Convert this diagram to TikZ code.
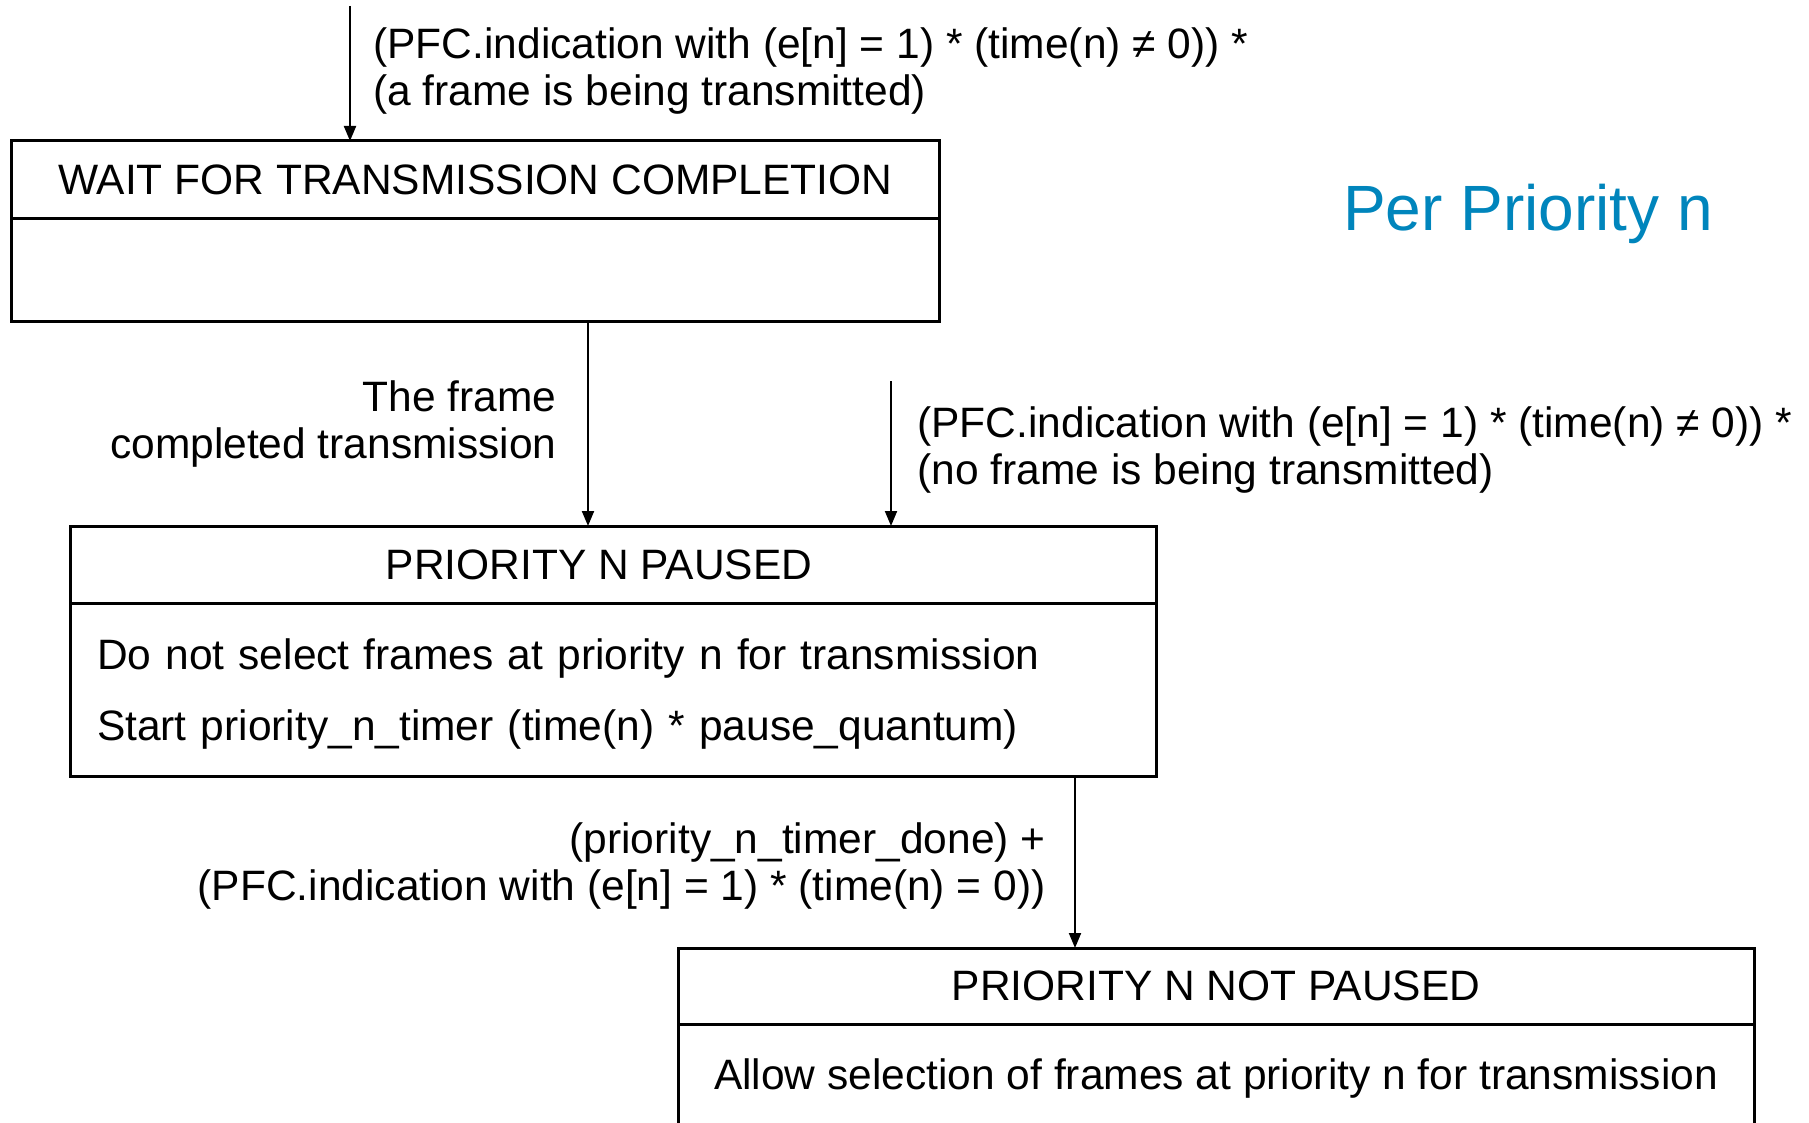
\documentclass[tikz,border=0pt]{standalone}
\usepackage{fontspec}
\setmainfont{Liberation Sans}
\usepackage{tikz}
\usetikzlibrary{calc,arrows.meta,positioning}
\definecolor{PerBlue}{RGB}{0,133,188}

\begin{document}
\begin{tikzpicture}[x=1pt,y=-1pt]

  % Page
  \useasboundingbox (0,0) rectangle (904.5,561.5);
  \clip (0,0) rectangle (904.5,561.5);

  % Styles
  \tikzstyle{every node}=[font=\fontsize{21.25}{23.5}\selectfont]
  \tikzstyle{statehead}=[draw,line width=1.5pt,inner sep=0pt,outer sep=0pt,anchor=north west]
  \tikzstyle{statebody}=[draw,line width=1.5pt,inner ysep=0pt,inner xsep=13.5pt,outer sep=0pt,anchor=north]
  \tikzstyle{guard}=[inner sep=0pt]
  \tikzstyle{line}=[line width=1pt,-{Triangle[length=7.5pt,width=6pt]}]

  % \state{<id>}{<x>}{<y>}{<width>}{<head height>}{<body height>}{<title>}{<body opts>}{<body text>}
  \newcommand{\state}[9]{%
    \node[statehead,minimum width=#4,minimum height=#5] (#1-head) at (#2,#3) {#7};
    \node[statebody,minimum width=#4,minimum height=#6,#8] (#1-body) at (#1-head.south) {#9};
  }

  % ===========================================================================

  % Draw states
  \state{wait}{5.75}{70.5}{463.75pt}{39pt}{51pt}{WAIT FOR TRANSMISSION COMPLETION}{}{}
  \state{paused}{35}{263}{543pt}{38.5pt}{86.5pt}{PRIORITY N PAUSED\kern14pt}
    {text width=516pt,align=left}
    {\rule{0pt}{20pt}Do not select frames at priority n for transmission\\[12pt]
     Start priority\_n\_timer (time(n) * pause\_quantum)}
  \state{notpaused}{339}{474}{538pt}{38pt}{55pt}{PRIORITY N NOT PAUSED}
    {align=center}
    {Allow selection of frames at priority n for transmission}

  % Title
  \node[anchor=base,text=PerBlue,font=\fontsize{32}{38}\selectfont] (per-priority) at (764,115.5) {Per Priority n};

  % Draw transitions
  \coordinate (wait-in) at (175,3);
  \draw[line] (wait-in) -- (wait-in |- wait-head.north);
  \node[guard,anchor=north west,align=left] (wait-guard) at (186.5,13.5)
    {(PFC.indication with (e[n] = 1) * (time(n) ≠ 0)) *\\(a frame is being transmitted)};

  \coordinate (done-x) at (294,0);
  \draw[line] (wait-body.south -| done-x) -- (paused-head.north -| done-x);
  \node[guard,anchor=north east,align=right] (done-guard) at (278.5,190)
    {The frame\\completed transmission};

  \coordinate (paused-in) at (445.5,190.5);
  \draw[line] (paused-in) -- (paused-in |- paused-head.north);
  \node[guard,anchor=north west,align=left] (paused-guard) at (458.5,203)
    {(PFC.indication with (e[n] = 1) * (time(n) ≠ 0)) *\\(no frame is being transmitted)};

  \coordinate (resume-x) at (537.5,0);
  \draw[line] (paused-body.south -| resume-x) -- (notpaused-head.north -| resume-x);
  \node[guard,anchor=north east,align=right] (resume-guard) at (523,411)
    {(priority\_n\_timer\_done) +\\(PFC.indication with (e[n] = 1) * (time(n) = 0))};

\end{tikzpicture}
\end{document}
